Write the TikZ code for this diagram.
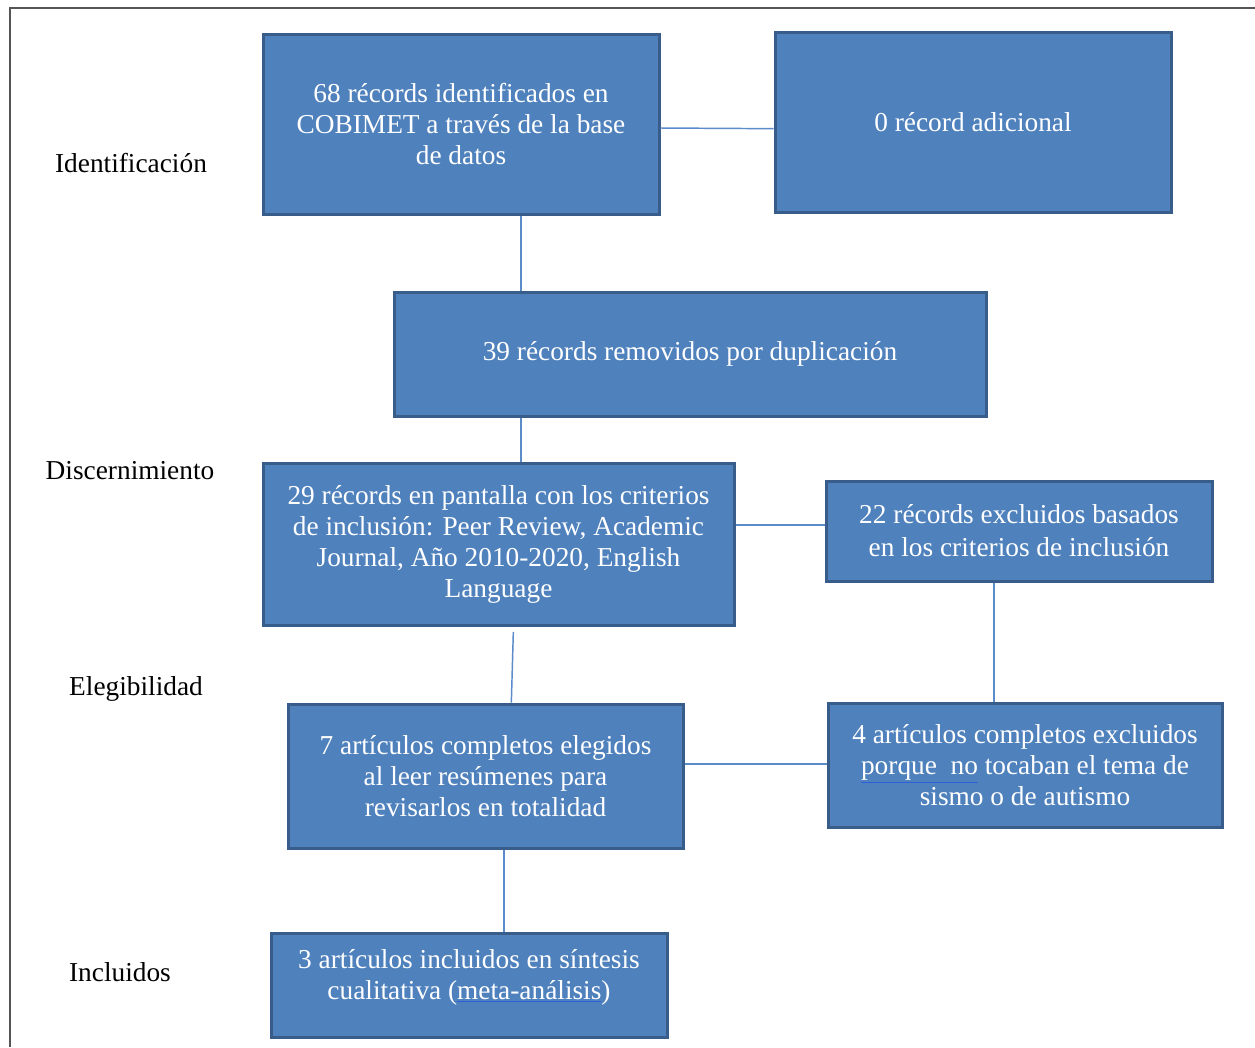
\documentclass[tikz,border=0pt]{standalone}
\usepackage{fontspec}
\setmainfont{Liberation Serif}
\usetikzlibrary{positioning}

\definecolor{boxfill}{HTML}{4F81BD}
\definecolor{boxline}{HTML}{385D8A}
\definecolor{linkblue}{HTML}{5B8BC8}
\definecolor{ulblue}{HTML}{2E5FD8}
\definecolor{framegray}{HTML}{555555}

\newcommand{\blueul}[1]{{\color{ulblue}\underline{{\color{white}#1}}}}

\tikzset{every picture/.style={line width=0.75pt}}
\tikzset{
  prisma/.style={draw=boxline, fill=boxfill, line width=2.25pt, text=white, align=center,
    font=\fontsize{20.5}{23.25}\selectfont, inner sep=0pt},
  stage/.style={text=black, font=\fontsize{20.5}{23.25}\selectfont},
  link/.style={draw=linkblue, line width=1.1pt}
}

\begin{document}
\begin{tikzpicture}[x=0.75pt,y=0.75pt,yscale=-1,xscale=1]
	\useasboundingbox (0,0) rectangle (1255,1047);

	%Frame
	\draw[framegray, line width=1.1pt] (10,1047) -- (10,8) -- (1255,8);

	%Shape: Rectangle
	\node[prisma, minimum width=297pt, minimum height=135pt] (rec68) at (461,124) {68 récords identificados en\\COBIMET a través de la base\\de datos};
	%Shape: Rectangle
	\node[prisma, minimum width=297pt, minimum height=135pt] (rec0) at (973,122) {0 récord adicional};
	%Shape: Rectangle
	\node[prisma, minimum width=444pt, minimum height=93pt] (rec39) at (690,354) {39 récords removidos por duplicación};
	%Shape: Rectangle
	\node[prisma, minimum width=353.25pt, minimum height=121.5pt] (rec29) at (498.5,544) {29 récords en pantalla con los criterios\\de inclusión: Peer Review, Academic\\Journal, Año 2010-2020, English\\Language};
	%Shape: Rectangle
	\node[prisma, minimum width=289.5pt, minimum height=75pt] (rec22) at (1019,531) {22 récords excluidos basados\\[1.5pt]en los criterios de inclusión};
	%Shape: Rectangle
	\node[prisma, minimum width=296.25pt, minimum height=108pt] (art7) at (485.5,776) {7 artículos completos elegidos\\al leer resúmenes para\\revisarlos en totalidad};
	%Shape: Rectangle
	\node[prisma, minimum width=295.5pt, minimum height=93pt] (art4) at (1025,765) {4 artículos completos excluidos\\\blueul{porque\ \ no} tocaban el tema de\\sismo o de autismo};
	%Shape: Rectangle
	\node[prisma, minimum width=297pt, minimum height=78pt, text height=30pt, text depth=9pt] (art3) at (469,985) {3 artículos incluidos en síntesis\\cualitativa (\blueul{meta-análisis})};

	% Text Node
	\node[stage] (ident) at (131,163) {Identificación};
	% Text Node
	\node[stage] (disc) at (130,471) {Discernimiento};
	% Text Node
	\node[stage] (eleg) at (136,689) {Elegibilidad};
	% Text Node
	\node[stage] (incl) at (120,972) {Incluidos};

	%Straight Lines
	\coordinate (xa) at (521,0);
	\coordinate (xb) at (994,0);
	\coordinate (xc) at (512,0);
	\coordinate (xd) at (504,0);
	\draw[link] ([yshift=3pt]rec68.east) -- ([yshift=5pt]rec0.west);
	\draw[link] (rec68.south -| xa) -- (rec39.north -| xa);
	\draw[link] (rec39.south -| xa) -- (rec29.north -| xa);
	\draw[link] ([yshift=-14.25pt]rec29.east) -- ([yshift=-4.5pt]rec22.west);
	\draw[link] (rec22.south -| xb) -- (art4.north -| xb);
	\draw[link] ([xshift=1pt,yshift=4pt]rec29.south -| xc) -- ([xshift=-0.5pt]art7.north -| xc);
	\draw[link] ([yshift=-9pt]art7.east) -- ([yshift=-0.75pt]art4.west);
	\draw[link] (art7.south -| xd) -- (art3.north -| xd);

\end{tikzpicture}
\end{document}
